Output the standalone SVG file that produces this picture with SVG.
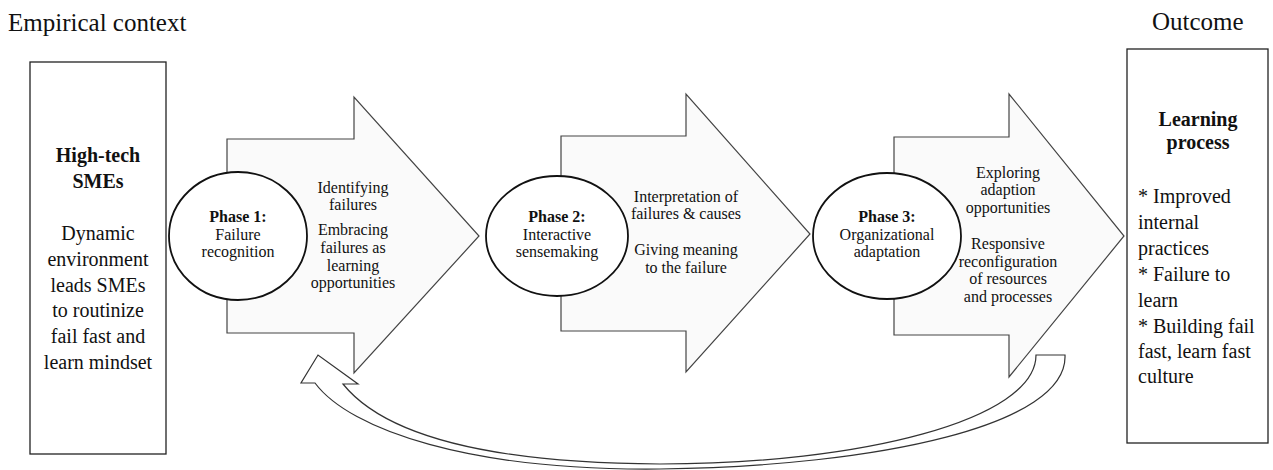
<svg xmlns="http://www.w3.org/2000/svg" width="1273" height="470" viewBox="0 0 1273 470" font-family="Liberation Serif, DejaVu Serif, serif">
<style>
text{fill:#111}
.t{font-size:25px}
.b20{font-size:20px;font-weight:bold;text-anchor:middle}
.r20{font-size:20px;text-anchor:middle}
.l20{font-size:20px}
.ph{font-size:16px;font-weight:bold;text-anchor:middle}
.p16{font-size:16px;text-anchor:middle}
.box{fill:#fff;stroke:#222;stroke-width:1.3}
.arr{fill:#fafafa;stroke:#444;stroke-width:1.2;stroke-linejoin:miter}
.circ{fill:#fff;stroke:#111;stroke-width:1.8}
.loop{fill:#fff;stroke:#333;stroke-width:1.2}
</style>
<text class="t" x="8" y="31">Empirical context</text>
<text class="t" x="1152" y="30">Outcome</text>

<g id="connectors">
<path class="loop" d="M1065,355 C1068,425 880,466 660,469 C470,471 350,430 315,383 L301,383 L318,355 L358,384 L343,384 C380,430 470,463 660,464 C860,464 1036,420 1036,355 Z"/>
</g>

<g id="context">
<rect class="box" x="30" y="62" width="136" height="392"/>
<text class="b20" x="98" y="162">High-tech</text>
<text class="b20" x="98" y="188">SMEs</text>
<text class="r20" x="98" y="240">Dynamic</text>
<text class="r20" x="98" y="266">environment</text>
<text class="r20" x="98" y="292">leads SMEs</text>
<text class="r20" x="98" y="317">to routinize</text>
<text class="r20" x="98" y="343">fail fast and</text>
<text class="r20" x="98" y="369">learn mindset</text>
</g>

<g id="phase1">
<polygon class="arr" points="227,139 354,139 354,97 479,236 354,373 354,333 227,333"/>
<ellipse class="circ" cx="238" cy="236" rx="69" ry="64"/>
<text class="ph" x="238" y="222">Phase 1:</text>
<text class="p16" x="238" y="240">Failure</text>
<text class="p16" x="238" y="257">recognition</text>
<text class="p16" x="353" y="193">Identifying</text>
<text class="p16" x="353" y="210">failures</text>
<text class="p16" x="353" y="235">Embracing</text>
<text class="p16" x="353" y="253">failures as</text>
<text class="p16" x="353" y="271">learning</text>
<text class="p16" x="353" y="288">opportunities</text>
</g>

<g id="phase2">
<polygon class="arr" points="561,136 686,136 686,94 810,234 686,372 686,331 561,331"/>
<ellipse class="circ" cx="557" cy="236" rx="71" ry="60"/>
<text class="ph" x="557" y="222">Phase 2:</text>
<text class="p16" x="557" y="240">Interactive</text>
<text class="p16" x="557" y="257">sensemaking</text>
<text class="p16" x="686" y="202">Interpretation of</text>
<text class="p16" x="686" y="219">failures &amp; causes</text>
<text class="p16" x="686" y="255">Giving meaning</text>
<text class="p16" x="686" y="273">to the failure</text>
</g>

<g id="phase3">
<polygon class="arr" points="894,137 1009,137 1009,94 1124,236 1009,377 1009,335 894,335"/>
<ellipse class="circ" cx="887" cy="236" rx="74" ry="63"/>
<text class="ph" x="887" y="222">Phase 3:</text>
<text class="p16" x="887" y="240">Organizational</text>
<text class="p16" x="887" y="257">adaptation</text>
<text class="p16" x="1008" y="178">Exploring</text>
<text class="p16" x="1008" y="195">adaption</text>
<text class="p16" x="1008" y="213">opportunities</text>
<text class="p16" x="1008" y="249">Responsive</text>
<text class="p16" x="1008" y="267">reconfiguration</text>
<text class="p16" x="1008" y="284">of resources</text>
<text class="p16" x="1008" y="302">and processes</text>
</g>

<g id="outcome">
<rect class="box" x="1127" y="49" width="141" height="394"/>
<text class="b20" x="1198" y="126">Learning</text>
<text class="b20" x="1198" y="149">process</text>
<text class="l20" x="1138" y="203">* Improved</text>
<text class="l20" x="1138" y="229">internal</text>
<text class="l20" x="1138" y="255">practices</text>
<text class="l20" x="1138" y="281">* Failure to</text>
<text class="l20" x="1138" y="307">learn</text>
<text class="l20" x="1138" y="333">* Building fail</text>
<text class="l20" x="1138" y="358">fast, learn fast</text>
<text class="l20" x="1138" y="383">culture</text>
</g>
</svg>
